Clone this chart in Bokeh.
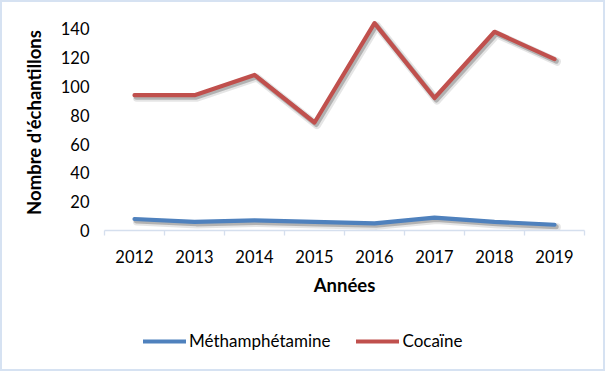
from bokeh.plotting import figure
from bokeh.layouts import column
from bokeh.models import (Range1d, FixedTicker, LinearAxis, Legend, LegendItem,
                          ColumnDataSource)
from bokeh.transform import dodge
from bokeh.embed import file_html
from bokeh.resources import INLINE

years = ["2012", "2013", "2014", "2015", "2016", "2017", "2018", "2019"]
metham = [8, 6, 7, 6, 5, 9, 6, 4]
cocaine = [94, 94, 108, 75, 144, 92, 138, 119]
y_ticks = [0, 20, 40, 60, 80, 100, 120, 140]
series_names = ["Méthamphétamine", "Cocaïne"]
series_colors = ["#4F81BD", "#C0504D"]

FONT = "Lato"
GRID = "#D5DFEE"

xpos = [i + 0.5 for i in range(len(years))]
src = ColumnDataSource(dict(x=xpos, m=metham, c=cocaine))

p = figure(width=605, height=314, output_backend="svg", toolbar_location=None,
           x_range=Range1d(0, len(years)), y_range=Range1d(0, 150),
           min_border_left=102, min_border_right=23, min_border_top=12,
           min_border_bottom=86, x_axis_type=None, y_axis_type=None,
           styles={"border": "2px solid #D6E2F2", "border-bottom": "none"})
p.outline_line_color = None

# y axis
yaxis = LinearAxis(ticker=FixedTicker(ticks=y_ticks))
yaxis.axis_line_color = None
yaxis.major_tick_line_color = None
yaxis.minor_tick_line_color = None
yaxis.major_tick_out = 0
yaxis.major_label_standoff = 15
yaxis.major_label_text_font = FONT
yaxis.major_label_text_font_size = "16.5px"
yaxis.major_label_text_color = "#000000"
yaxis.axis_label = "Nombre d'échantillons"
yaxis.axis_label_text_font = FONT
yaxis.axis_label_text_font_style = "bold"
yaxis.axis_label_text_font_size = "18.5px"
yaxis.axis_label_text_color = "#000000"
yaxis.axis_label_standoff = 13
p.add_layout(yaxis, "left")

# x axis: labels at category centres, tick marks between categories
xaxis = LinearAxis(ticker=FixedTicker(ticks=xpos, minor_ticks=list(range(len(years) + 1))))
xaxis.major_label_overrides = {x: y for x, y in zip(xpos, years)}
xaxis.axis_line_color = GRID
xaxis.axis_line_width = 1.3
xaxis.major_tick_line_color = None
xaxis.major_tick_out = 0
xaxis.major_tick_in = 0
xaxis.minor_tick_line_color = GRID
xaxis.minor_tick_line_width = 1.3
xaxis.minor_tick_out = 5
xaxis.minor_tick_in = 0
xaxis.major_label_standoff = 14
xaxis.major_label_text_font = FONT
xaxis.major_label_text_font_size = "16.5px"
xaxis.major_label_text_color = "#000000"
xaxis.axis_label = "Années"
xaxis.axis_label_text_font = FONT
xaxis.axis_label_text_font_style = "bold"
xaxis.axis_label_text_font_size = "18.5px"
xaxis.axis_label_text_color = "#000000"
xaxis.axis_label_standoff = 8
p.add_layout(xaxis, "below")

p.ygrid.ticker = FixedTicker(ticks=y_ticks)
p.ygrid.grid_line_color = GRID
p.ygrid.grid_line_width = 1.3
p.xgrid.grid_line_color = None

# shadows
for col in ["m", "c"]:
    p.line(x=dodge("x", 0.04, range=p.x_range), y=dodge(col, -1.8, range=p.y_range),
           source=src, line_color="black", line_alpha=0.10, line_width=8,
           line_join="round", line_cap="round")
    p.line(x=dodge("x", 0.03, range=p.x_range), y=dodge(col, -1.4, range=p.y_range),
           source=src, line_color="black", line_alpha=0.22, line_width=5,
           line_join="round", line_cap="round")

for col, color in zip(["m", "c"], series_colors):
    p.line(x="x", y=col, source=src, line_color=color, line_width=4.2,
           line_join="round", line_cap="round")

# legend strip below the chart (its frame is aligned with the chart's frame)
lg = figure(width=605, height=57, output_backend="svg", toolbar_location=None,
            min_border=0, x_axis_type=None, y_axis_type=None,
            x_range=Range1d(0, 1), y_range=Range1d(0, 1),
            styles={"border": "2px solid #D6E2F2", "border-top": "none"})
lg.outline_line_color = None
lg.grid.visible = False
items = []
for name, color in zip(series_names, series_colors):
    # key-only renderer (kept outside the visible range)
    r = lg.line(x=[-10, -9], y=[-10, -9], line_color=color, line_width=4.2,
                line_cap="round")
    items.append(LegendItem(label=name, renderers=[r]))

legend = Legend(items=items, orientation="horizontal", location=(39, 20),
                glyph_width=43, glyph_height=20, label_standoff=3, spacing=26,
                padding=0, margin=0, border_line_color=None,
                background_fill_alpha=0,
                label_text_font=FONT, label_text_font_size="17px",
                label_text_color="#000000")
lg.add_layout(legend, "center")

layout = column(p, lg, spacing=0)
open("out.html", "w").write(file_html(layout, INLINE))
